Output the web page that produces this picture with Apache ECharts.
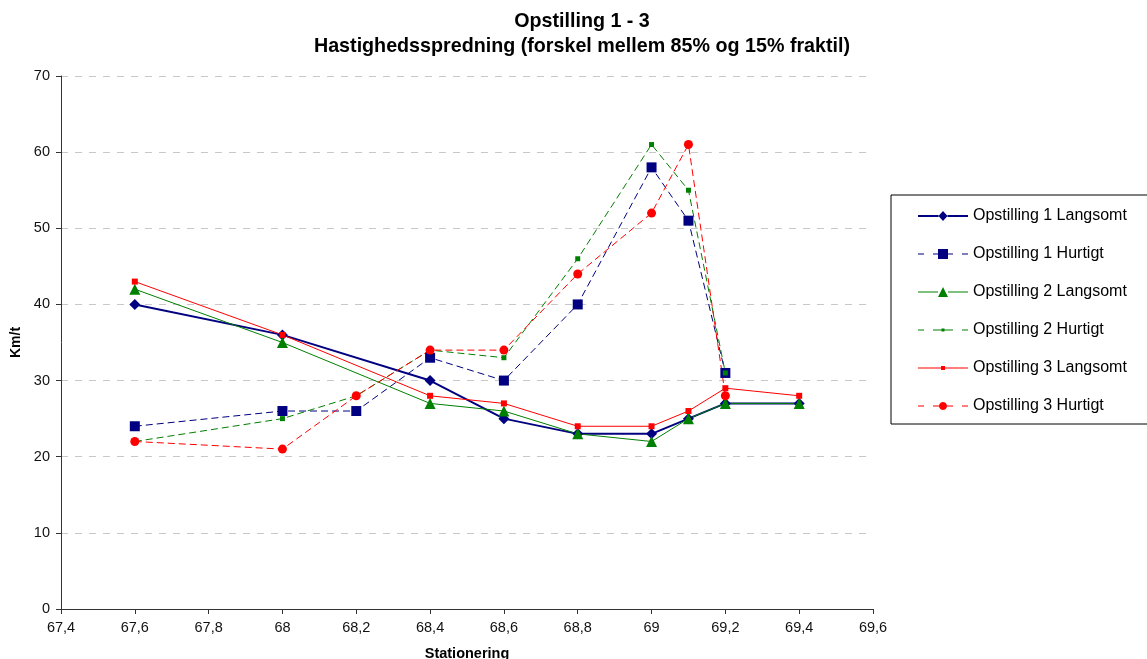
<!DOCTYPE html>
<html>
<head>
<meta charset="utf-8">
<script src="https://cdn.jsdelivr.net/npm/echarts@6/dist/echarts.min.js"></script>
<style>
  html, body { margin: 0; padding: 0; background: #fff; }
  #chart { width: 1147px; height: 659px; }
</style>
</head>
<body>
<div id="chart"></div>
<script>
// stationering values for each series
var stationL = [67.6, 68, 68.4, 68.6, 68.8, 69, 69.1, 69.2, 69.4];
var stationH = [67.6, 68, 68.2, 68.4, 68.6, 68.8, 69, 69.1, 69.2];

var op1Langsomt = [40, 36, 30, 25, 23, 23, 25, 27, 27];
var op1Hurtigt  = [24, 26, 26, 33, 30, 40, 58, 51, 31];
var op2Langsomt = [42, 35, 27, 26, 23, 22, 25, 27, 27];
var op2Hurtigt  = [22, 25, 28, 34, 33, 46, 61, 55, 31];
var op3Langsomt = [43, 36, 28, 27, 24, 24, 26, 29, 28];
var op3Hurtigt  = [22, 21, 28, 34, 34, 44, 52, 61, 28];

var seriesNames = ['Opstilling 1 Langsomt', 'Opstilling 1 Hurtigt', 'Opstilling 2 Langsomt',
                   'Opstilling 2 Hurtigt', 'Opstilling 3 Langsomt', 'Opstilling 3 Hurtigt'];

function pairs(xs, ys) {
    return xs.map(function (x, i) { return [x, ys[i]]; });
}

var dash = [7, 4];
var font = 'Liberation Sans, Arial, sans-serif';

// legend icon: line sample (solid or dashed) with the marker in the middle, as one path
function legendIcon(lw, dashed, marker, s) {
    var c = 6, m = 25, p = [];
    function seg(a, b) { p.push('M' + a + ' ' + (c - lw / 2) + 'H' + b + 'V' + (c + lw / 2) + 'H' + a + 'Z'); }
    if (dashed) {
        seg(0, 6); seg(15, m - s / 2); seg(m + s / 2, 35); seg(44, 50);
    } else {
        seg(0, m - s / 2); seg(m + s / 2, 50);
    }
    var h = s / 2;
    if (marker === 'diamond') {
        p.push('M' + m + ' ' + (c - h - 0.5) + 'L' + (m + h) + ' ' + c + 'L' + m + ' ' + (c + h + 0.5) + 'L' + (m - h) + ' ' + c + 'Z');
    } else if (marker === 'rect') {
        p.push('M' + (m - h) + ' ' + (c - h) + 'H' + (m + h) + 'V' + (c + h) + 'H' + (m - h) + 'Z');
    } else if (marker === 'triangle') {
        p.push('M' + m + ' ' + (c - h) + 'L' + (m + h) + ' ' + (c + h) + 'L' + (m - h) + ' ' + (c + h) + 'Z');
    } else {
        var pts = [];
        for (var k = 0; k < 20; k++) {
            var a = k / 20 * Math.PI * 2;
            pts.push((m + h * Math.cos(a)).toFixed(2) + ' ' + (c + h * Math.sin(a)).toFixed(2));
        }
        p.push('M' + pts.join('L') + 'Z');
    }
    return 'path://' + p.join('');
}

function line(name, xs, ys, color, symbol, size, width, dashed) {
    return {
        name: name,
        type: 'line',
        data: pairs(xs, ys),
        symbol: symbol,
        symbolSize: size,
        itemStyle: { color: color },
        lineStyle: { color: color, width: width, type: dashed ? dash : 'solid' },
        emphasis: { disabled: true },
        animation: false
    };
}

var myChart = echarts.init(document.getElementById('chart'));
var option = {
    backgroundColor: '#fff',
    textStyle: { fontFamily: font },
    title: {
        text: 'Opstilling 1 - 3\nHastighedsspredning (forskel mellem 85% og 15% fraktil)',
        left: 582,
        textAlign: 'center',
        top: 9,
        padding: 0,
        textStyle: { fontSize: 19.7, fontWeight: 'bold', color: '#000', lineHeight: 25, fontFamily: font }
    },
    legend: {
        orient: 'vertical',
        left: 891,
        top: 195,
        padding: [13, 60, 10, 27],
        itemGap: 22,
        itemWidth: 50,
        itemHeight: 16,
        borderColor: '#000',
        borderWidth: 1,
        itemStyle: { borderWidth: 0 },
        data: [
            { name: seriesNames[0], icon: legendIcon(2, false, 'diamond', 9) },
            { name: seriesNames[1], icon: legendIcon(1, true, 'rect', 10) },
            { name: seriesNames[2], icon: legendIcon(1, false, 'triangle', 10) },
            { name: seriesNames[3], icon: legendIcon(1, true, 'rect', 3) },
            { name: seriesNames[4], icon: legendIcon(1, false, 'rect', 4) },
            { name: seriesNames[5], icon: legendIcon(1, true, 'circle', 8) }
        ],
        textStyle: { fontSize: 16, color: '#000', fontFamily: font }
    },
    grid: { left: 61, right: 274, top: 76, bottom: 50, outerBoundsMode: 'none' },
    xAxis: {
        type: 'value',
        min: 67.4,
        max: 69.6,
        interval: 0.2,
        name: 'Stationering',
        nameLocation: 'middle',
        nameGap: 37,
        nameTextStyle: { fontSize: 14.5, fontWeight: 'bold', color: '#000' },
        axisLine: { show: true, lineStyle: { color: '#333', width: 1 } },
        axisTick: { show: true, length: 5, lineStyle: { color: '#333' } },
        axisLabel: {
            fontSize: 14.5, color: '#111', margin: 11,
            formatter: function (v) { return String(Math.round(v * 10) / 10).replace('.', ','); }
        },
        splitLine: { show: false }
    },
    yAxis: {
        type: 'value',
        min: 0,
        max: 70,
        interval: 10,
        name: 'Km/t',
        nameLocation: 'middle',
        nameGap: 38,
        nameTextStyle: { fontSize: 14, fontWeight: 'bold', color: '#000' },
        axisLine: { show: true, lineStyle: { color: '#333', width: 1 } },
        axisTick: { show: true, length: 5, lineStyle: { color: '#333' } },
        axisLabel: { fontSize: 14.5, color: '#111', margin: 11 },
        splitLine: { show: true, lineStyle: { color: '#c8c8c8', type: [7, 7], width: 1 } }
    },
    series: [
        line(seriesNames[0], stationL, op1Langsomt, '#000080', 'diamond', 11, 2, false),
        line(seriesNames[1], stationH, op1Hurtigt, '#000080', 'rect', 10, 1, true),
        line(seriesNames[2], stationL, op2Langsomt, '#008000', 'triangle', 11, 1, false),
        line(seriesNames[3], stationH, op2Hurtigt, '#008000', 'rect', 5, 1, true),
        line(seriesNames[4], stationL, op3Langsomt, '#ff0000', 'rect', 6, 1, false),
        line(seriesNames[5], stationH, op3Hurtigt, '#ff0000', 'circle', 9, 1, true)
    ]
};
myChart.setOption(option);
</script>
</body>
</html>
